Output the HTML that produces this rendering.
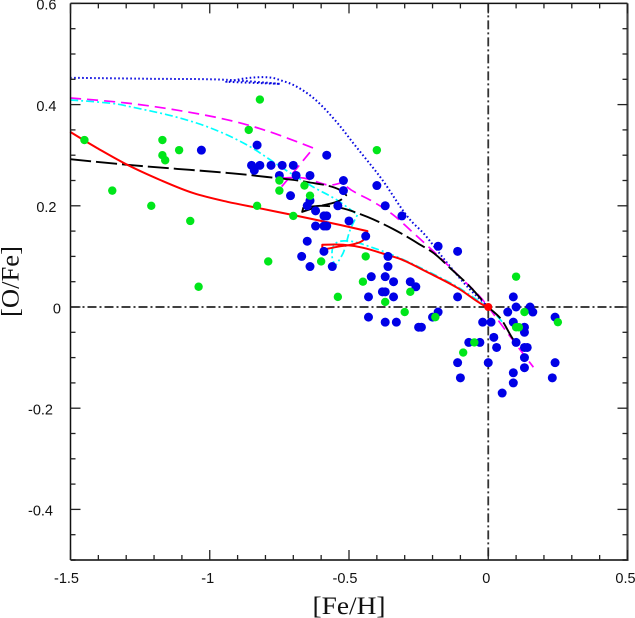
<!DOCTYPE html>
<html>
<head>
<meta charset="utf-8">
<title>[O/Fe] vs [Fe/H]</title>
<style>
html,body{margin:0;padding:0;background:#fff;}
svg{display:block;}
text{fill:#111;}
.tick{font-family:"Liberation Sans",sans-serif;font-size:14.5px;}
.title{font-family:"Liberation Serif",serif;font-size:25px;}
</style>
</head>
<body>
<svg id="chart" width="635" height="618" viewBox="0 0 635 618" xmlns="http://www.w3.org/2000/svg">
<text class="title" x="349" y="614" text-anchor="middle" textLength="73" lengthAdjust="spacingAndGlyphs">[Fe/H]</text>
<text class="title" transform="translate(18.5,281.5) rotate(-90)" text-anchor="middle" textLength="71" lengthAdjust="spacingAndGlyphs">[O/Fe]</text>
</svg>
<script>
var xTicks = [-1.5, -1, -0.5, 0, 0.5];
var xTickLabels = ["-1.5", "-1", "-0.5", "0", "0.5"];
var yTicks = [0.6, 0.4, 0.2, 0, -0.2, -0.4];
var yTickLabels = ["0.6", "0.4", "0.2", "0", "-0.2", "-0.4"];

var blueFeH = [-1.03,-0.83,-0.85,-0.84,-0.82,-0.78,-0.74,-0.70,-0.58,-0.75,-0.69,-0.64,-0.52,-0.52,-0.40,-0.71,-0.64,-0.65,-0.62,-0.54,-0.37,-0.31,-0.59,-0.58,-0.50,-0.62,-0.59,-0.58,-0.44,-0.65,-0.59,-0.67,-0.64,-0.56,-0.36,-0.36,-0.42,-0.37,-0.34,-0.28,-0.26,-0.38,-0.37,-0.43,-0.34,-0.43,-0.37,-0.33,-0.18,-0.11,-0.11,-0.18,-0.20,-0.25,-0.24,-0.02,0.01,-0.07,-0.03,0.02,0.03,-0.11,0,-0.10,0.05,0.09,0.10,0.15,0.07,0.16,0.09,0.24,0.13,0.13,0.10,0.13,0.14,0.13,0.13,0.09,0.09,0.24,0.23];
var blueOFe = [0.31,0.32,0.28,0.27,0.28,0.28,0.28,0.28,0.30,0.26,0.26,0.26,0.25,0.23,0.24,0.22,0.21,0.20,0.19,0.20,0.20,0.18,0.18,0.18,0.17,0.16,0.16,0.16,0.14,0.13,0.11,0.10,0.08,0.08,0.10,0.08,0.06,0.06,0.05,0.05,0.04,0.03,0.03,0.02,0.02,-0.02,-0.03,-0.03,0.12,0.11,0.02,-0.01,-0.02,-0.04,-0.04,-0.03,-0.03,-0.07,-0.07,-0.06,-0.08,-0.11,-0.11,-0.14,-0.17,0.02,0,0,-0.01,-0.01,-0.03,-0.02,-0.04,-0.05,-0.07,-0.08,-0.08,-0.10,-0.12,-0.13,-0.15,-0.11,-0.14];

var greenFeH = [-1.45,-1.35,-1.21,-1.17,-1.17,-1.16,-1.11,-1.07,-0.82,-0.86,-0.83,-0.75,-0.75,-0.66,-0.64,-0.70,-1.04,-0.79,-0.60,-0.44,-0.40,-0.45,-0.54,-0.37,-0.30,-0.28,-0.19,-0.05,-0.09,0.10,0.13,0.10,0.11,0.25];
var greenOFe = [0.33,0.23,0.20,0.33,0.30,0.29,0.31,0.17,0.41,0.35,0.20,0.25,0.23,0.24,0.22,0.18,0.04,0.09,0.09,0.10,0.31,0.05,0.02,0.01,-0.01,0.03,-0.02,-0.07,-0.09,0.06,-0.01,-0.04,-0.04,-0.03];

var solarFeH = [0];
var solarOFe = [0];

var redFeH = [-1.501,-1.404,-1.296,-1.178,-1.059,-0.937,-0.829,-0.686,-0.531,-0.434,-0.449,-0.478,-0.542,-0.596,-0.596,-0.521,-0.449,-0.363,-0.316,-0.219,-0.111,-0.018,0];
var redOFe = [0.346,0.314,0.281,0.251,0.225,0.208,0.196,0.180,0.162,0.150,0.132,0.125,0.119,0.113,0.123,0.123,0.117,0.103,0.095,0.069,0.038,0.004,0];

var cyanFeH = [-1.501,-1.332,-1.296,-1.117,-0.998,-0.865,-0.772,-0.700,-0.628,-0.542,-0.470,-0.496,-0.521,-0.549,-0.560,-0.557,-0.542,-0.496,-0.413,-0.327,-0.219,-0.111,-0.018,0,0.054];
var cyanOFe = [0.409,0.401,0.397,0.375,0.354,0.320,0.287,0.261,0.237,0.211,0.182,0.152,0.107,0.081,0.097,0.119,0.128,0.130,0.117,0.099,0.071,0.040,0.006,0,-0.032];

var magentaFeH = [-1.501,-1.296,-1.117,-0.937,-0.794,-0.628,-0.740,-0.736,-0.664,-0.567,-0.521,-0.506,-0.413,-0.341,-0.280,-0.183,-0.101,-0.029,0,0.054,0.115,0.162];
var magentaOFe = [0.413,0.403,0.389,0.370,0.348,0.314,0.239,0.255,0.255,0.241,0.247,0.237,0.208,0.182,0.152,0.103,0.059,0.020,0,-0.040,-0.085,-0.119];

var blackFeH = [-1.501,-1.296,-1.117,-0.937,-0.794,-0.650,-0.531,-0.510,-0.531,-0.614,-0.668,-0.664,-0.603,-0.531,-0.434,-0.341,-0.244,-0.197,-0.129,-0.065,0,0.043,0.086,0.104];
var blackOFe = [0.292,0.281,0.273,0.265,0.257,0.247,0.231,0.221,0.211,0.198,0.188,0.196,0.200,0.196,0.178,0.154,0.123,0.107,0.073,0.040,0,-0.022,-0.061,-0.075];

var dottedFeH = [-1.501,-1.214,-0.941,-0.747,-0.941,-0.855,-0.776,-0.740,-0.700,-0.628,-0.542,-0.485,-0.388,-0.280,-0.233,-0.162,-0.075,0];
var dottedOFe = [0.453,0.451,0.449,0.441,0.445,0.453,0.453,0.447,0.439,0.413,0.364,0.324,0.257,0.172,0.146,0.097,0.040,0];

function xPos(v) { return 488.25 + v * 278.5; }
function yPos(v) { return 307 - v * 506; }

var svg = document.getElementById('chart');
var NS = 'http://www.w3.org/2000/svg';
function make(tag, attrs) {
  var el = document.createElementNS(NS, tag);
  for (var k in attrs) { el.setAttribute(k, attrs[k]); }
  svg.appendChild(el);
  return el;
}
// Smooth path through the data points; sharp turns stay as corners.
function smoothPath(xs, ys) {
  var p = xs.map(function (x, i) { return [xPos(x), yPos(ys[i])]; });
  var tan = p.map(function (pt, i) {
    if (i === 0 || i === p.length - 1) { return [0, 0]; }
    var a = [pt[0] - p[i - 1][0], pt[1] - p[i - 1][1]];
    var b = [p[i + 1][0] - pt[0], p[i + 1][1] - pt[1]];
    var la = Math.hypot(a[0], a[1]) || 1, lb = Math.hypot(b[0], b[1]) || 1;
    var cos = (a[0] * b[0] + a[1] * b[1]) / (la * lb);
    if (cos < 0.6) { return [0, 0]; }
    var ux = a[0] / la + b[0] / lb, uy = a[1] / la + b[1] / lb;
    var lu = Math.hypot(ux, uy) || 1;
    return [ux / lu, uy / lu];
  });
  var d = 'M' + p[0][0].toFixed(1) + ' ' + p[0][1].toFixed(1);
  for (var i = 1; i < p.length; i++) {
    var s = Math.hypot(p[i][0] - p[i - 1][0], p[i][1] - p[i - 1][1]) / 3;
    d += ' C' + (p[i - 1][0] + tan[i - 1][0] * s).toFixed(1) + ' ' + (p[i - 1][1] + tan[i - 1][1] * s).toFixed(1) +
         ' ' + (p[i][0] - tan[i][0] * s).toFixed(1) + ' ' + (p[i][1] - tan[i][1] * s).toFixed(1) +
         ' ' + p[i][0].toFixed(1) + ' ' + p[i][1].toFixed(1);
  }
  return d;
}
function drawCurve(xs, ys, color, width, dash, name) {
  var el = make('path', {d: smoothPath(xs, ys), fill: 'none', stroke: color, 'stroke-width': width, 'stroke-dasharray': dash, 'stroke-linejoin': 'round'});
  
  
}
function drawDots(xs, ys, color, r, name) {
  xs.forEach(function (x, i) {
    var el = make('circle', {cx: xPos(x), cy: yPos(ys[i]), r: r, fill: color});
    
    
  });
}
function drawLine(x1, y1, x2, y2, width, color, dash, name) {
  var el = make('line', {x1: x1, y1: y1, x2: x2, y2: y2, stroke: color, 'stroke-width': width, 'stroke-dasharray': dash});
  
  
}

var L = xPos(-1.5), R = xPos(0.5), T = yPos(0.6), B = yPos(-0.5);

// zero reference lines
drawLine(L, yPos(0), R, yPos(0), 1.5, '#000', '9 3 2 3', 'zero-oxygen-line');
drawLine(xPos(0), T, xPos(0), B, 1.8, '#333', '9 3 2 3', 'zero-iron-line');

// model curves
drawCurve(dottedFeH, dottedOFe, '#0a0ae0', 2, '1.6 2.4', 'model-curve-blue-dotted');
drawCurve(magentaFeH, magentaOFe, '#ff00ff', 1.7, '11 6', 'model-curve-magenta-dashed');
drawCurve(cyanFeH, cyanOFe, '#00ffff', 1.7, '8 3 2 3', 'model-curve-cyan-dashdot');
drawCurve(blackFeH, blackOFe, '#000', 1.9, '21 5', 'model-curve-black-longdash');
drawCurve(redFeH, redOFe, '#ff0000', 2, 'none', 'model-curve-red-solid');

// frame
drawLine(L, T, L, B, 1.5, '#111', 'none', 'frame-left');
drawLine(L, T, R, T, 1.5, '#111', 'none', 'frame-top');
drawLine(R, T, R, B + 1, 2.1, '#444', 'none', 'frame-right');
drawLine(L, B, R, B, 2.1, '#444', 'none', 'frame-bottom');

// ticks
for (var i = 0; i <= 20; i++) {
  var xv = -1.5 + i * 0.1;
  var xLen = (i % 5 === 0) ? 10 : 5;
  drawLine(xPos(xv), B, xPos(xv), B - xLen, 1.3, '#222', 'none', 'x-tick-bottom');
  drawLine(xPos(xv), T, xPos(xv), T + xLen, 1.3, '#222', 'none', 'x-tick-top');
}
for (var j = 0; j <= 22; j++) {
  var yv = 0.6 - j * 0.05;
  var yLen = (j % 4 === 0) ? 10 : 5;
  drawLine(L, yPos(yv), L + yLen, yPos(yv), 1.3, '#222', 'none', 'y-tick-left');
  drawLine(R, yPos(yv), R - yLen, yPos(yv), 1.3, '#222', 'none', 'y-tick-right');
}

// tick labels
xTicks.forEach(function (v, i) {
  var label = xTickLabels[i];
  var shift = label.length >= 4 ? 4 : 2;
  var t = make('text', {x: xPos(v) - shift, y: 583, 'text-anchor': 'middle', 'class': 'tick'});
  t.textContent = label;
  
  
});
yTicks.forEach(function (v, i) {
  var label = yTickLabels[i];
  var right = label.length === 1 ? 61 : (label.charAt(0) === '-' ? 53 : 56.5);
  var t = make('text', {x: right, y: yPos(v) + 6.3, 'text-anchor': 'end', 'class': 'tick'});
  t.textContent = label;
  
  
});

// stars
drawDots(blueFeH, blueOFe, '#0000e6', 4.5, 'star-blue');
drawDots(greenFeH, greenOFe, '#00e61a', 4.2, 'star-green');
drawDots(solarFeH, solarOFe, '#ff0000', 4, 'solar-point');
</script>
</body>
</html>
